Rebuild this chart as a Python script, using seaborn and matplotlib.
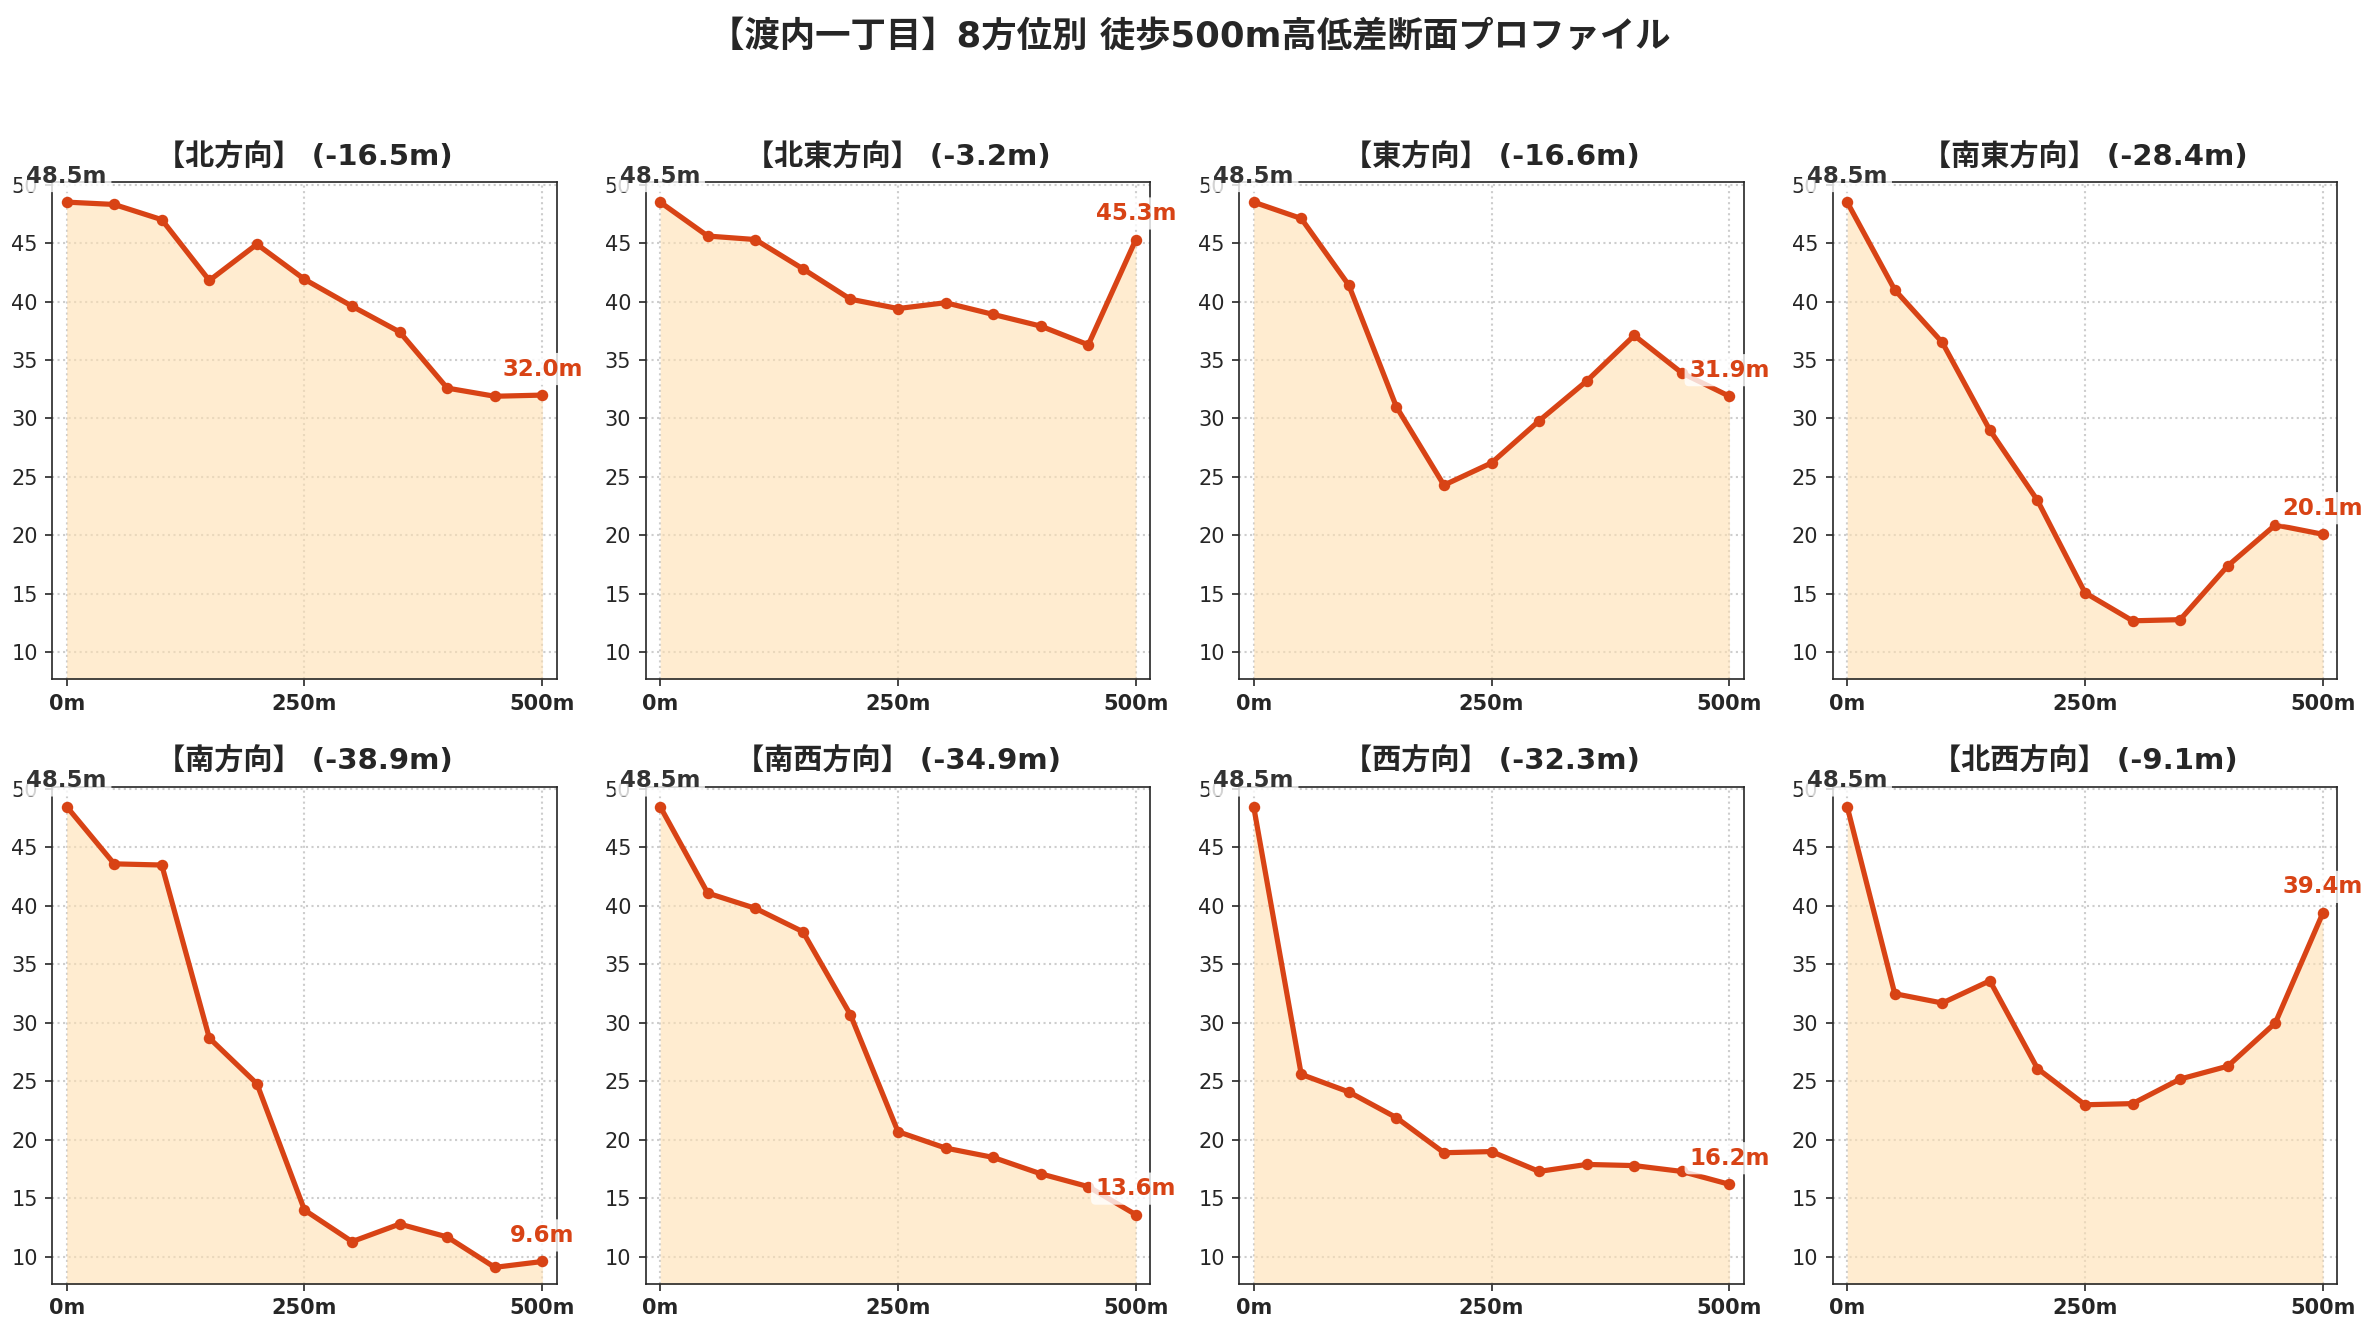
import numpy as np
import pandas as pd
import seaborn as sns
import matplotlib.pyplot as plt

# distance along each walking line (m)
distance = [0, 50, 100, 150, 200, 250, 300, 350, 400, 450, 500]

directions = ['北方向', '北東方向', '東方向', '南東方向',
              '南方向', '南西方向', '西方向', '北西方向']

# elevations (m)
north = [48.5, 48.3, 47.0, 41.8, 44.9, 41.9, 39.6, 37.4, 32.6, 31.9, 32.0]
northeast = [48.5, 45.6, 45.3, 42.8, 40.2, 39.4, 39.9, 38.9, 37.9, 36.3, 45.3]
east = [48.5, 47.1, 41.4, 31.0, 24.3, 26.2, 29.8, 33.2, 37.1, 33.9, 31.9]
southeast = [48.5, 41.0, 36.5, 29.0, 23.0, 15.1, 12.7, 12.8, 17.4, 20.9, 20.1]
south = [48.5, 43.6, 43.5, 28.7, 24.8, 14.0, 11.3, 12.8, 11.7, 9.1, 9.6]
southwest = [48.5, 41.1, 39.8, 37.8, 30.7, 20.7, 19.3, 18.5, 17.1, 16.0, 13.6]
west = [48.5, 25.6, 24.1, 21.9, 18.9, 19.0, 17.3, 17.9, 17.8, 17.3, 16.2]
northwest = [48.5, 32.5, 31.7, 33.6, 26.1, 23.0, 23.1, 25.2, 26.3, 30.0, 39.4]

profiles = [north, northeast, east, southeast, south, southwest, west, northwest]

xtick_vals = [0, 250, 500]
xtick_labels = ['0m', '250m', '500m']
ytick_vals = [10, 15, 20, 25, 30, 35, 40, 45, 50]

line_color = '#D84315'
fill_color = '#FFE0B2'

sns.set_style('ticks')
plt.rcParams['font.family'] = ['DejaVu Sans', 'Noto Sans CJK JP']

fig, axes = plt.subplots(2, 4, figsize=(2380 / 150, 1340 / 150), dpi=150)
fig.subplots_adjust(left=0.022, right=0.982, bottom=0.042, top=0.864,
                    wspace=0.177, hspace=0.216)

for ax, name, elev in zip(axes.flat, directions, profiles):
    df = pd.DataFrame({'distance': distance, 'elevation': elev})

    ax.fill_between(df['distance'], df['elevation'], 0,
                    color=fill_color, alpha=0.6, linewidth=0)
    sns.lineplot(data=df, x='distance', y='elevation', ax=ax,
                 color=line_color, linewidth=2.5, marker='o',
                 markersize=5.5, markeredgewidth=0)

    ax.set_xlim(-15, 515)
    ax.set_ylim(7.7, 50.2)
    ax.set_xticks(xtick_vals)
    ax.set_xticklabels(xtick_labels, fontweight='bold')
    ax.set_yticks(ytick_vals)
    ax.tick_params(labelsize=10)
    ax.set_xlabel('')
    ax.set_ylabel('')
    ax.grid(True, linestyle=':', color='#c8c8c8', alpha=0.9, linewidth=1)

    diff = elev[-1] - elev[0]
    ax.set_title(f'【{name}】 ({diff:.1f}m)', fontsize=14, fontweight='bold',
                 pad=8)

    # start / end labels
    box = dict(boxstyle='round,pad=0.2', fc='white', ec='none', alpha=0.8)
    ax.annotate(f'{elev[0]:.1f}m', (distance[0], elev[0]), xytext=(0, 7),
                textcoords='offset points', ha='center', va='bottom',
                fontsize=11, fontweight='bold', color='#333333',
                bbox=box, annotation_clip=False)
    ax.annotate(f'{elev[-1]:.1f}m', (distance[-1], elev[-1]), xytext=(0, 7),
                textcoords='offset points', ha='center', va='bottom',
                fontsize=11, fontweight='bold', color=line_color,
                bbox=box, annotation_clip=False)

fig.suptitle('【渡内一丁目】8方位別 徒歩500m高低差断面プロファイル',
             fontsize=17, fontweight='bold', y=0.985)

fig.savefig('out.png', dpi=150)
